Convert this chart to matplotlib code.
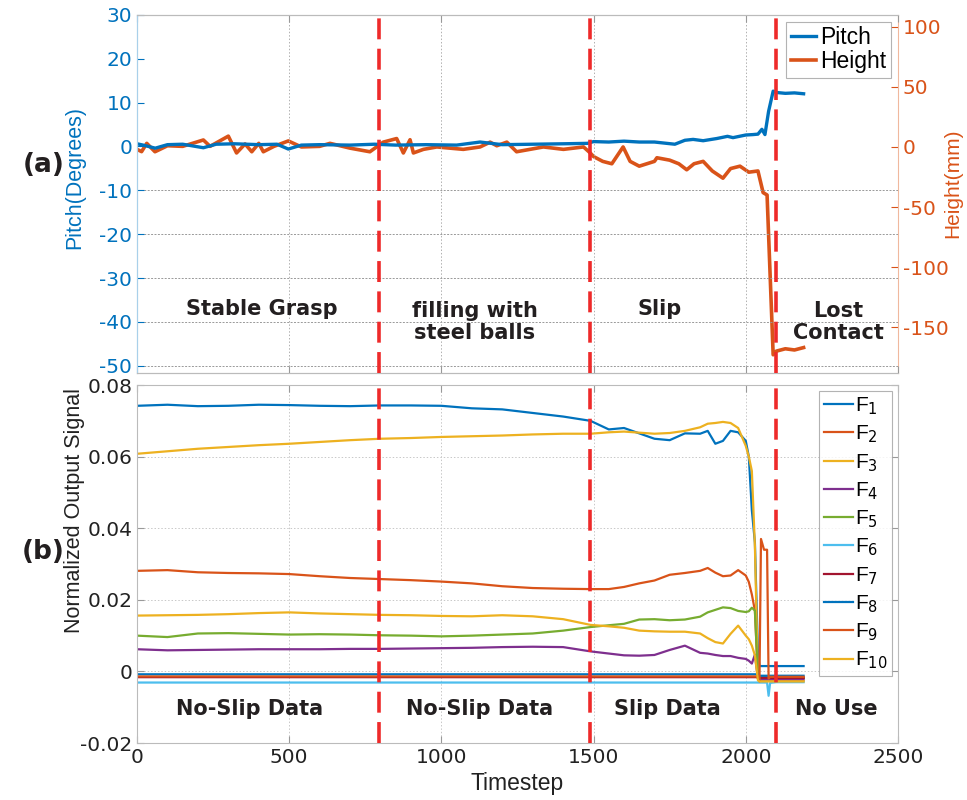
import numpy as np
import matplotlib
matplotlib.use("Agg")
import matplotlib.pyplot as plt

plt.rcParams['font.family'] = ['Liberation Sans', 'DejaVu Sans']
plt.rcParams['axes.unicode_minus'] = False

BLUE = '#0072BD'
ORANGE = '#D95319'
YELLOW = '#EDB120'
PURPLE = '#7E2F8E'
GREEN = '#77AC30'
CYAN = '#4DBEEE'
DARKRED = '#A2142F'
RED = '#EE2A2A'

# ---- panel (a) data ----
t_pitch = [0, 20, 60, 100, 150, 218, 260, 320, 400, 460, 497, 540, 600, 700, 780, 850,
           950, 1050, 1127, 1200, 1300, 1400, 1480, 1500, 1550, 1600, 1650, 1700, 1767,
           1800, 1827, 1860, 1905, 1940, 1958, 2000, 2024, 2040, 2053, 2063, 2075, 2090,
           2100, 2130, 2160, 2190]
pitch = [0.6, 0.3, -0.4, 0.4, 0.5, -0.3, 0.5, 0.6, 0.4, 0.5, -0.6, 0.3, 0.4, 0.3, 0.5, 0.3,
         0.4, 0.3, 1.0, 0.4, 0.5, 0.6, 0.7, 1.1, 1.0, 1.2, 1.0, 1.0, 0.5,
         1.4, 1.6, 1.3, 1.8, 2.3, 2.0, 2.6, 2.7, 2.8, 3.9, 2.7, 8.0, 12.6,
         12.3, 12.1, 12.2, 12.0]

t_height = [0, 15, 32, 59, 100, 150, 218, 240, 300, 327, 355, 377, 400, 415, 450, 497, 540,
            600, 634, 700, 765, 809, 853, 875, 897, 908, 941, 985, 1028, 1072, 1127, 1160,
            1182, 1215, 1247, 1291, 1335, 1401, 1467, 1489, 1500, 1530, 1560, 1597, 1620,
            1650, 1700, 1708, 1750, 1780, 1806, 1830, 1860, 1890, 1925, 1950, 1981, 2010,
            2040, 2057, 2070, 2090, 2100, 2130, 2160, 2190]
height = [-2, -3.9, 3, -4, 1, 0.5, 5.8, 0.5, 9, -5, 2.5, -4, 3, -4, 0.5, 5, 0,
          0.5, 3, -1, -4, 4, 7, -5, 6, -5, -2, 0, -1, -2, 0, 4,
          1, 4, -4, -2, 0, -2, 0, -5, -8, -12, -14, 0, -12,
          -16, -12, -9, -11, -14, -19, -14, -12, -20, -26, -18, -16, -21,
          -20, -38, -40, -173, -170, -168, -169, -167]

# ---- panel (b) data ----
t_f = [0, 100, 200, 300, 400, 500, 600, 700, 800, 900, 1000, 1100, 1200, 1300, 1400,
       1490, 1550, 1600, 1650, 1700, 1750, 1800, 1850, 1875, 1900, 1925, 1950, 1975, 2000,
       2010, 2020, 2030, 2040, 2045, 2050, 2060, 2070, 2075, 2080, 2100, 2190]
f1 = [0.0742, 0.0745, 0.0741, 0.0742, 0.0745, 0.0744, 0.0742, 0.0741, 0.0743, 0.0743, 0.0742,
      0.0735, 0.0732, 0.0722, 0.0712, 0.0700, 0.0676, 0.0680, 0.0665, 0.0650, 0.0646, 0.0665,
      0.0664, 0.0672, 0.0636, 0.0644, 0.0672, 0.0668, 0.0644, 0.0600, 0.0450, 0.0360, 0.0050,
      0.0015, 0.0015, 0.0015, 0.0015, 0.0015, 0.0015, 0.0015, 0.0015]
f2 = [0.0281, 0.0283, 0.0277, 0.0275, 0.0274, 0.0272, 0.0266, 0.0261, 0.0258, 0.0255, 0.0251,
      0.0246, 0.0238, 0.0233, 0.0231, 0.0230, 0.0230, 0.0236, 0.0246, 0.0254, 0.0270, 0.0275,
      0.0281, 0.0289, 0.0276, 0.0266, 0.0268, 0.0283, 0.0268, 0.0250, 0.0215, 0.0170, -0.0015,
      -0.0025, -0.0016, -0.0016, -0.0016, -0.0016, -0.0016, -0.0016, -0.0017]
f3 = [0.0608, 0.0615, 0.0622, 0.0627, 0.0632, 0.0636, 0.0641, 0.0646, 0.0650, 0.0652, 0.0655,
      0.0657, 0.0659, 0.0662, 0.0664, 0.0664, 0.0668, 0.0670, 0.0667, 0.0664, 0.0666, 0.0672,
      0.0682, 0.0692, 0.0694, 0.0697, 0.0694, 0.0680, 0.0630, 0.0600, 0.0560, 0.0350, -0.0020,
      -0.0028, -0.0027, -0.0026, -0.0026, -0.0026, -0.0026, -0.0026, -0.0026]
f4 = [0.0062, 0.0059, 0.0060, 0.0061, 0.0062, 0.0062, 0.0062, 0.0063, 0.0063, 0.0064, 0.0065,
      0.0066, 0.0068, 0.0069, 0.0068, 0.0056, 0.0050, 0.0045, 0.0044, 0.0046, 0.0060, 0.0072,
      0.0052, 0.0050, 0.0046, 0.0043, 0.0043, 0.0038, 0.0035, 0.0030, 0.0022, 0.0047, -0.0020,
      -0.0022, -0.0022, -0.0022, -0.0022, -0.0022, -0.0022, -0.0022, -0.0022]
f5 = [0.0100, 0.0096, 0.0106, 0.0107, 0.0105, 0.0103, 0.0104, 0.0103, 0.0101, 0.0100, 0.0098,
      0.0100, 0.0103, 0.0106, 0.0114, 0.0124, 0.0129, 0.0133, 0.0145, 0.0146, 0.0143, 0.0145,
      0.0153, 0.0165, 0.0172, 0.0179, 0.0177, 0.0169, 0.0166, 0.0168, 0.0178, 0.0170, -0.0018,
      -0.0018, -0.0018, -0.0018, -0.0018, -0.0018, -0.0018, -0.0018, -0.0018]
f6 = [-0.0031, -0.0031, -0.0031, -0.0031, -0.0031, -0.0031, -0.0031, -0.0031, -0.0031, -0.0031,
      -0.0031, -0.0031, -0.0031, -0.0031, -0.0031, -0.0031, -0.0031, -0.0031, -0.0031, -0.0031,
      -0.0031, -0.0031, -0.0031, -0.0031, -0.0031, -0.0031, -0.0031, -0.0031, -0.0031, -0.0031,
      -0.0031, -0.0031, -0.0031, -0.0031, -0.0031, -0.0031, -0.0031, -0.0068, -0.0032, -0.0030,
      -0.0030]
f7 = [-0.0016, -0.0016, -0.0016, -0.0016, -0.0016, -0.0016, -0.0016, -0.0016, -0.0016, -0.0016,
      -0.0016, -0.0016, -0.0016, -0.0016, -0.0016, -0.0016, -0.0016, -0.0016, -0.0016, -0.0016,
      -0.0016, -0.0016, -0.0016, -0.0016, -0.0016, -0.0016, -0.0016, -0.0016, -0.0016, -0.0016,
      -0.0016, -0.0016, -0.0016, -0.0018, -0.0018, -0.0018, -0.0018, -0.0018, -0.0018, -0.0018,
      -0.0018]
f8 = [-0.0008, -0.0008, -0.0008, -0.0008, -0.0008, -0.0008, -0.0008, -0.0008, -0.0008, -0.0008,
      -0.0008, -0.0008, -0.0008, -0.0008, -0.0008, -0.0008, -0.0008, -0.0008, -0.0008, -0.0008,
      -0.0008, -0.0008, -0.0008, -0.0008, -0.0008, -0.0008, -0.0008, -0.0008, -0.0008, -0.0008,
      -0.0008, -0.0008, -0.0008, -0.0012, -0.0012, -0.0012, -0.0012, -0.0012, -0.0012, -0.0012,
      -0.0012]
f9 = [-0.0014, -0.0014, -0.0014, -0.0014, -0.0014, -0.0014, -0.0014, -0.0014, -0.0014, -0.0014,
      -0.0014, -0.0014, -0.0014, -0.0014, -0.0014, -0.0014, -0.0014, -0.0014, -0.0014, -0.0014,
      -0.0014, -0.0014, -0.0014, -0.0014, -0.0014, -0.0014, -0.0014, -0.0014, -0.0014, -0.0014,
      -0.0014, -0.0014, -0.0014, -0.0028, 0.0370, 0.0340, 0.0340, -0.0020, -0.0015, -0.0015,
      -0.0015]
f10 = [0.0156, 0.0157, 0.0158, 0.0160, 0.0163, 0.0165, 0.0162, 0.0160, 0.0158, 0.0157, 0.0155,
       0.0154, 0.0157, 0.0154, 0.0146, 0.0130, 0.0126, 0.0122, 0.0114, 0.0112, 0.0111, 0.0111,
       0.0106, 0.0093, 0.0082, 0.0078, 0.0105, 0.0128, 0.0100, 0.0090, 0.0072, 0.0045, -0.0025,
       -0.0028, -0.0028, -0.0028, -0.0028, -0.0028, -0.0028, -0.0028, -0.0028]

f_series = [f1, f2, f3, f4, f5, f6, f7, f8, f9, f10]
f_colors = [BLUE, ORANGE, YELLOW, PURPLE, GREEN, CYAN, DARKRED, BLUE, ORANGE, YELLOW]
f_labels = ['F$_{%d}$' % (i + 1) for i in range(10)]

boundaries = [795, 1488, 2098]
top_phases = ['Stable Grasp', 'filling with\nsteel balls', 'Slip', 'Lost\nContact']
top_phase_x = [411, 1110, 1718, 2303]
top_phase_y = [-37, -40, -37, -40]
bot_phases = ['No-Slip Data', 'No-Slip Data', 'Slip Data', 'No Use']
bot_phase_x = [371, 1127, 1744, 2296]

fig = plt.figure(figsize=(9.67, 8.0), dpi=100)
ax1 = fig.add_axes([0.1417, 0.534, 0.7869, 0.4475])
ax2 = fig.add_axes([0.1417, 0.0712, 0.7869, 0.4475])

# ---------------- panel (a) ----------------
ax1r = ax1.twinx()
l1, = ax1.plot(t_pitch, pitch, color=BLUE, lw=2.4, label='Pitch')
l2, = ax1r.plot(t_height, height, color=ORANGE, lw=2.6, label='Height')
ax1.set_zorder(ax1r.get_zorder() + 1)
ax1.patch.set_visible(False)

ax1.set_xlim(0, 2500)
ax1.set_ylim(-51.6, 30)
ax1r.set_ylim(-188, 110)
ax1.set_yticks(np.arange(-50, 31, 10))
ax1r.set_yticks([-150, -100, -50, 0, 50, 100])
ax1.set_xticks([0, 500, 1000, 1500, 2000, 2500])
ax1.set_xticklabels([])
ax1.grid(axis='x', color='#B0B0B0', linestyle=(0, (1.5, 2)), lw=0.7)
for yv in [-10, -20, -30, -40, -50]:
    ax1.axhline(yv, color='#999999', linestyle=(0, (2, 1.5)), lw=0.7, zorder=0)

ax1.tick_params(axis='y', colors=BLUE, direction='in', length=5, labelsize=14.5)
ax1.tick_params(axis='x', direction='in', length=5, top=True, color='#999999')
ax1r.tick_params(axis='y', colors=ORANGE, direction='in', length=5, labelsize=14.5)
for lab in ax1.get_yticklabels() + ax1r.get_yticklabels():
    lab.set_family('DejaVu Sans')
ax1.spines['left'].set_color('#A9D0EA')
ax1r.spines['left'].set_color('#A9D0EA')
ax1r.spines['right'].set_color('#F0B89E')
ax1.spines['right'].set_visible(False)
for ax in (ax1, ax1r):
    ax.spines['top'].set_color('#BBBBBB')
    ax.spines['bottom'].set_color('#BBBBBB')

ax1.set_ylabel('Pitch(Degrees)', color=BLUE, fontsize=15.5)
ax1.yaxis.set_label_coords(-0.068, 0.545)
ax1r.set_ylabel('Height(mm)', color=ORANGE, fontsize=15)
ax1r.yaxis.set_label_coords(1.06, 0.53)

for b in boundaries:
    ax1.axvline(b, color=RED, lw=2.6, dashes=(5.8, 2.6), zorder=5)
for txt, x, y in zip(top_phases, top_phase_x, top_phase_y):
    ax1.text(x, y, txt, ha='center', va='center', fontsize=15, fontweight='bold',
             family='DejaVu Sans', color='#231F20', linespacing=1.15, zorder=6)

leg1 = ax1.legend(handles=[l1, l2], loc='upper right', fontsize=16.5, frameon=True,
                  fancybox=False, handlelength=1.1, handletextpad=0.2,
                  borderpad=0.2, labelspacing=0.05, borderaxespad=0.3)
leg1.get_frame().set_edgecolor('#A0A0A0')
leg1.get_frame().set_linewidth(0.8)
leg1.set_zorder(10)

# ---------------- panel (b) ----------------
for vals, c, lab in zip(f_series, f_colors, f_labels):
    ax2.plot(t_f, vals, color=c, lw=1.6, label=lab)
for b in boundaries:
    ax2.axvline(b, color=RED, lw=2.6, dashes=(5.8, 2.6), zorder=5)
for txt, x in zip(bot_phases, bot_phase_x):
    ax2.text(x, -0.0106, txt, ha='center', va='center', fontsize=15, fontweight='bold',
             family='DejaVu Sans', color='#231F20', zorder=6)

ax2.set_xlim(0, 2500)
ax2.set_ylim(-0.02, 0.08)
ax2.set_xticks([0, 500, 1000, 1500, 2000, 2500])
ax2.set_yticks([-0.02, 0, 0.02, 0.04, 0.06, 0.08])
ax2.set_yticklabels(['-0.02', '0', '0.02', '0.04', '0.06', '0.08'])
ax2.grid(True, color='#C8C8C8', linestyle=(0, (1.5, 2)), lw=0.7)
ax2.tick_params(direction='in', length=5, top=True, right=True, color='#999999',
                labelsize=14.5, labelcolor='#222222')
for lab in ax2.get_xticklabels() + ax2.get_yticklabels():
    lab.set_family('DejaVu Sans')
for s in ax2.spines.values():
    s.set_color('#BBBBBB')

ax2.set_ylabel('Normalized Output Signal', fontsize=15.5, color='#222222')
ax2.yaxis.set_label_coords(-0.068, 0.65)
ax2.set_xlabel('Timestep', fontsize=16.5, color='#222222')
ax2.xaxis.set_label_coords(0.5, -0.08)

leg2 = ax2.legend(loc='upper right', fontsize=15, frameon=True, fancybox=False,
                  handlelength=1.4, handletextpad=0.1, borderpad=0.2,
                  labelspacing=0.32, borderaxespad=0.3)
leg2.get_frame().set_edgecolor('#A0A0A0')
leg2.get_frame().set_linewidth(0.8)
leg2.set_zorder(10)

fig.text(0.045, 0.794, '(a)', fontsize=19, fontweight='bold', family='DejaVu Sans',
         ha='center', va='center', color='#231F20')
fig.text(0.045, 0.31, '(b)', fontsize=19, fontweight='bold', family='DejaVu Sans',
         ha='center', va='center', color='#231F20')

fig.savefig('out.png', dpi=100)
